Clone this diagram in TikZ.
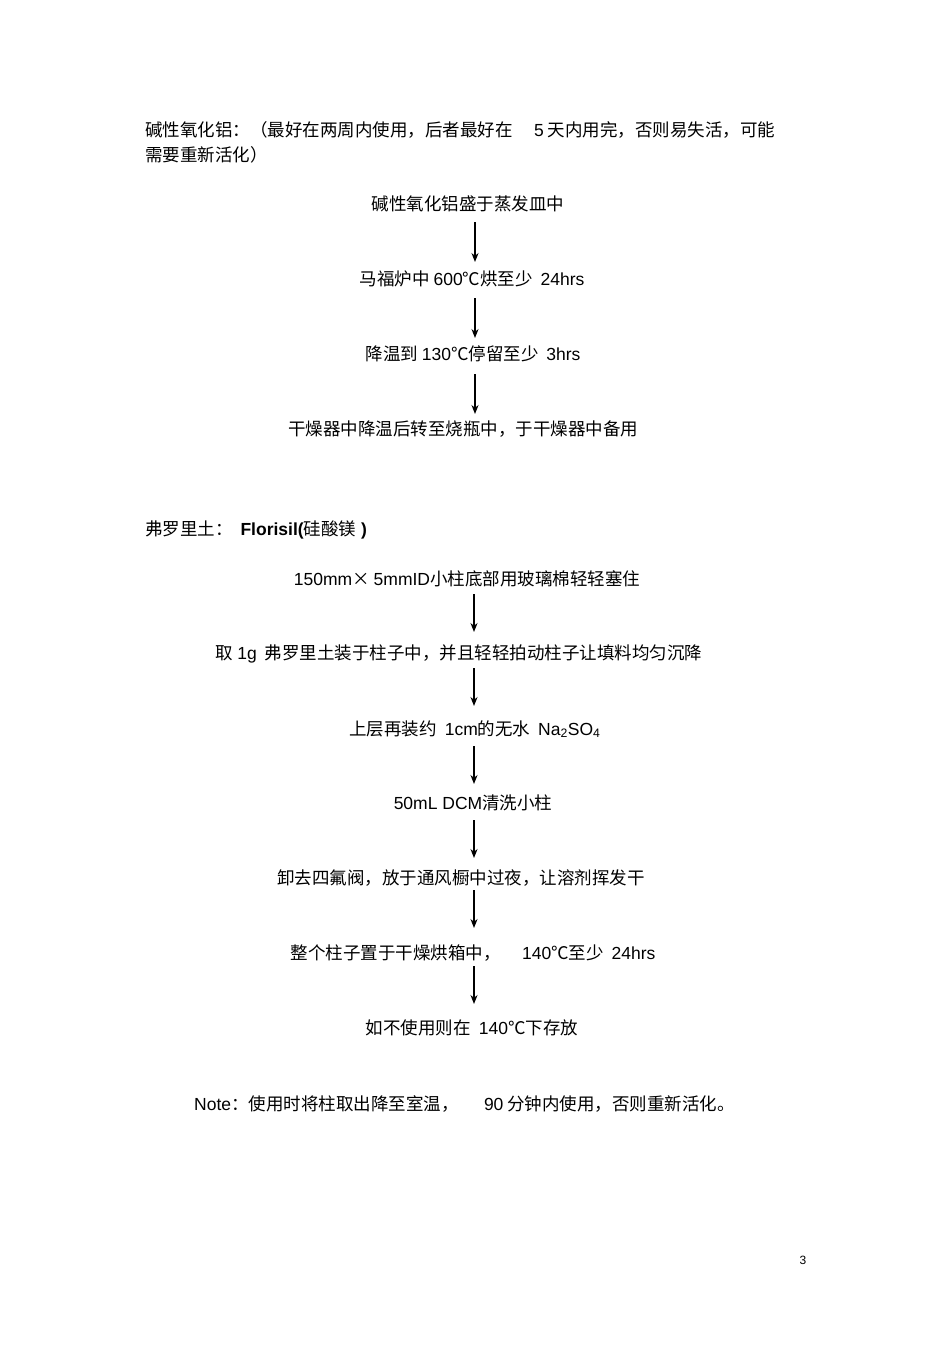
\documentclass[tikz,border=0pt]{standalone}
\usepackage{fontspec}
\usetikzlibrary{arrows.meta}
\setmainfont{Noto Sans CJK SC}
\newfontfamily\lat{Liberation Sans}
\begin{document}
\begin{tikzpicture}[x=1pt,y=-1pt,
  txt/.style={inner sep=0pt,font=\fontsize{17.5}{20}\selectfont},
  arr/.style={-{Stealth[length=9pt,width=7pt]},line width=1.3pt}]
\useasboundingbox (0,0) rectangle (950,1345);
\node[txt,anchor=west] (h1) at (145,130) {碱性氧化铝：（最好在两周内使用，后者最好在\quad\ {\lat 5} 天内用完，否则易失活，可能};
\node[txt,anchor=west] (h1b) at (145,155) {需要重新活化）};
\node[txt] (a1) at (468,204) {碱性氧化铝盛于蒸发皿中};
\node[txt] (a2) at (472,279) {马福炉中\ {\lat 600}℃烘至少\ \ {\lat 24hrs}};
\node[txt] (a3) at (473,354) {降温到\ {\lat 130}℃停留至少\ \ {\lat 3hrs}};
\node[txt] (a4) at (463,429) {干燥器中降温后转至烧瓶中，于干燥器中备用};
\foreach \y in {222,298,374}
  \draw[arr] (475,\y) -- (475,\y+40);
\node[txt,anchor=west] (h2) at (145,530) {弗罗里土：\ \ {\lat\bfseries Florisil(}硅酸镁{\lat\bfseries\ )}};
\node[txt] (b1) at (467,579) {{\lat 150mm}×\ {\lat 5mmID}小柱底部用玻璃棉轻轻塞住};
\node[txt] (b2) at (459,654) {取\ {\lat 1g}\ \ 弗罗里土装于柱子中，并且轻轻拍动柱子让填料均匀沉降};
\node[txt] (b3) at (475,729) {上层再装约\ \ {\lat 1cm}的无水\ \ {\lat Na\textsubscript{2}SO\textsubscript{4}}};
\node[txt] (b4) at (473,803) {{\lat 50mL DCM}清洗小柱};
\node[txt] (b5) at (461,878) {卸去四氟阀，放于通风橱中过夜，让溶剂挥发干};
\node[txt] (b6) at (473,953) {整个柱子置于干燥烘箱中，\quad\ {\lat 140}℃至少\ \ {\lat 24hrs}};
\node[txt] (b7) at (472,1028) {如不使用则在\ \ {\lat 140}℃下存放};
\foreach \y in {594,668,746,820,890,966}
  \draw[arr] (474,\y) -- (474,\y+38);
\node[txt,anchor=west] (note) at (194,1104) {{\lat Note}：使用时将柱取出降至室温，\quad\ \ {\lat 90} 分钟内使用，否则重新活化。};
\node[txt,font=\lat\fontsize{12}{14}\selectfont] (pg) at (803,1260) {3};
\end{tikzpicture}
\end{document}
